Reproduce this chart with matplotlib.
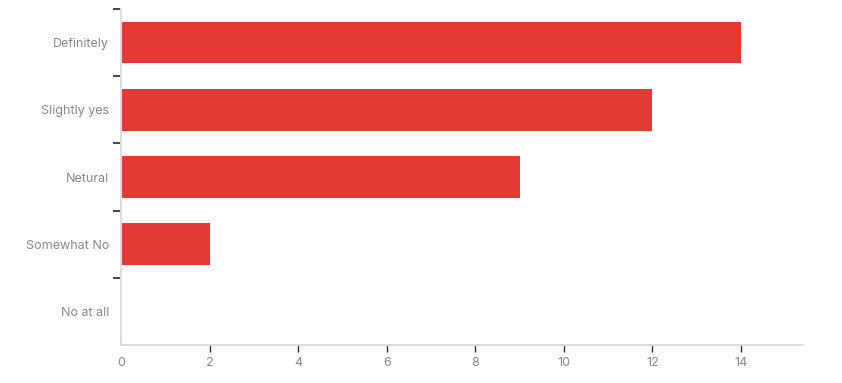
import numpy as np
import matplotlib.pyplot as plt

categories = ["Definitely", "Slightly yes", "Netural", "Somewhat No", "No at all"]
counts = [14, 12, 9, 2, 0]
xticks = [0, 2, 4, 6, 8, 10, 12, 14]

plt.rcParams['font.family'] = ['Inter', 'DejaVu Sans']

fig = plt.figure(figsize=(8.42, 3.83), dpi=100)
ax = fig.add_axes([121/842, 1 - 345/383, (803 - 121)/842, (345 - 9)/383])

n = len(categories)
pos = np.arange(n)
ax.barh(pos, counts, height=0.62, color="#e53935")

ax.set_ylim(n - 0.5, -0.5)
ax.set_xlim(0, 15.4)

# category labels on minor ticks, boundary ticks as major
ax.set_yticks(np.arange(n) - 0.5)
ax.set_yticklabels([])
ax.set_yticks(pos, minor=True)
ax.set_yticklabels(categories, minor=True)
ax.tick_params(axis="y", which="minor", length=0, pad=8.5, labelsize=9, labelcolor="#888888")
ax.tick_params(axis="y", which="major", length=6, width=1.2, color="#222222")

ax.set_xticks(xticks)
ax.tick_params(axis="x", length=5, width=1, color="#333333", pad=4, labelsize=9, labelcolor="#888888")
ax.xaxis.get_major_ticks()[0].tick1line.set_visible(False)

for s in ["top", "right"]:
    ax.spines[s].set_visible(False)
for s in ["left", "bottom"]:
    ax.spines[s].set_color("#dddddd")
    ax.spines[s].set_linewidth(1.5)

fig.savefig("out.png", dpi=100)
